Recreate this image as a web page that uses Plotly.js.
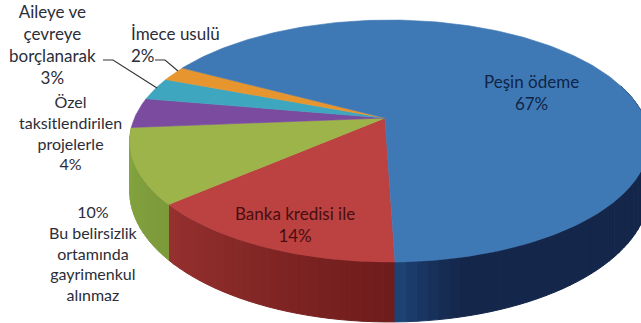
<!DOCTYPE html>
<html>
<head>
<meta charset="utf-8">
<script src="https://cdn.plot.ly/plotly-3.0.1.min.js"></script>
<style>html,body{margin:0;padding:0;background:#fff}#chart{width:641px;height:323px}</style>
</head>
<body>
<div id="chart"></div>
<script>
// Share of answers, listed in drawing order (clockwise from the front of the pie)
const categories = ["Banka kredisi ile", "Bu belirsizlik ortamında gayrimenkul alınmaz",
  "Özel taksitlendirilen projelerle", "Aileye ve çevreye borçlanarak", "İmece usulü", "Peşin ödeme"];
const shares = [14, 10, 4, 3, 2, 67];

const topColors = ["#bb4240", "#9db44b", "#7a4b9f", "#3fa6bf", "#e6952f", "#3f79b5"];
// Rim shading per slice (start and end of its sweep); slices at the back show no rim
const rimColors = [
  ["#6f1c1c", "#96312f"], ["#7c9a3a", "#85a540"], null, null, null, ["#14274b", "#1f4a80"]
];

// Perspective projection of the pie disc onto the page
const disc = { x0: 389.5, y0: 118, apexX: 385, rx: 255, ry: 116.6, tilt: 0.19, depth: 48.6, start: 89 };

function project(deg, drop) {
  const a = deg * Math.PI / 180, u = Math.cos(a), v = Math.sin(a);
  const s = 1 / (1 - disc.tilt * v);
  return [disc.x0 + disc.rx * u * s, disc.y0 + disc.ry * v * s + (drop ? disc.depth * s : 0)];
}
function mix(c1, c2, t) {
  const p = c => [1, 3, 5].map(i => parseInt(c.substr(i, 2), 16));
  const a = p(c1), b = p(c2);
  return "rgb(" + a.map((v, i) => Math.round(v + (b[i] - v) * t)).join(",") + ")";
}

const total = shares.reduce((a, b) => a + b, 0);
const rimTraces = [], topTraces = [];
let from = disc.start;
shares.forEach((share, i) => {
  const sweep = share / total * 360, to = from + sweep;

  // Rim: narrow strips so that the shading can vary along the sweep
  if (rimColors[i]) {
    const steps = Math.max(2, Math.round(sweep / 2));
    for (let k = 0; k < steps; k++) {
      const a0 = from + sweep * k / steps, a1 = from + sweep * (k + 1) / steps;
      if (Math.sin(((a0 + a1) / 2) * Math.PI / 180) < -0.3) continue;
      // The large slice keeps its dark tone until just before the front seam
      const t = i === 5 ? Math.pow(Math.max(0, (a0 - 435) / 14), 1.5) : k / steps;
      const col = mix(rimColors[i][0], rimColors[i][1], Math.min(1, t));
      const pts = [project(a0, false), project(a1, false), project(a1, true), project(a0, true)];
      rimTraces.push({
        type: "scatter", mode: "lines", fill: "toself", fillcolor: col,
        x: pts.map(p => p[0]).concat(pts[0][0]), y: pts.map(p => p[1]).concat(pts[0][1]),
        line: { color: col, width: 1 }, hoverinfo: "skip", showlegend: false
      });
    }
  }

  // Top face of the slice
  const xs = [disc.apexX], ys = [disc.y0], n = Math.max(4, Math.round(sweep));
  for (let k = 0; k <= n; k++) {
    const p = project(from + sweep * k / n, false);
    xs.push(p[0]); ys.push(p[1]);
  }
  xs.push(disc.apexX); ys.push(disc.y0);
  topTraces.push({
    type: "scatter", mode: "lines", fill: "toself", fillcolor: topColors[i],
    x: xs, y: ys, name: categories[i],
    line: { color: topColors[i], width: 0.6 }, hoverinfo: "skip", showlegend: false
  });
  from = to;
});

// Leader lines from the two small slices to their labels
const leaders = [
  { x: [103, 113, 157], y: [60, 60, 88] },
  { x: [155, 165, 178], y: [60, 60, 71] }
].map(l => ({
  type: "scatter", mode: "lines", x: l.x, y: l.y,
  line: { color: "#2f3338", width: 1.1 }, hoverinfo: "skip", showlegend: false
}));

const ink = "#2b2d38";
function label(text, x, y, size, color, align) {
  return {
    text, x, y, xref: "x", yref: "y", showarrow: false,
    xanchor: align || "center", yanchor: "middle", align: align || "center",
    font: { family: "Lato, Carlito, sans-serif", size, color: color || ink }
  };
}
const annotations = [
  label("Aileye ve<br>çevreye<br>borçlanarak<br>" + shares[3] + "%", 52, 44.5, 17),
  label("Özel<br>taksitlendirilen<br>projelerle<br>" + shares[2] + "%", 70, 132.5, 16),
  label(shares[1] + "%<br>Bu belirsizlik<br>ortamında<br>gayrimenkul<br>alınmaz", 93, 253, 16),
  label("İmece usulü<br>" + shares[4] + "%", 129, 44.5, 17, ink, "left"),
  label("Peşin ödeme<br>" + shares[5] + "%", 531, 92.5, 17, "#0f2547"),
  label("Banka kredisi ile<br>" + shares[0] + "%", 295, 224.5, 17, "#4a0d0f")
];

Plotly.newPlot("chart", rimTraces.concat(topTraces, leaders), {
  width: 641, height: 323,
  margin: { l: 0, r: 0, t: 0, b: 0 },
  paper_bgcolor: "#fff", plot_bgcolor: "#fff",
  xaxis: { range: [0, 641], visible: false, fixedrange: true },
  yaxis: { range: [323, 0], visible: false, fixedrange: true },
  showlegend: false,
  annotations
}, { displayModeBar: false, staticPlot: true });
</script>
</body>
</html>
